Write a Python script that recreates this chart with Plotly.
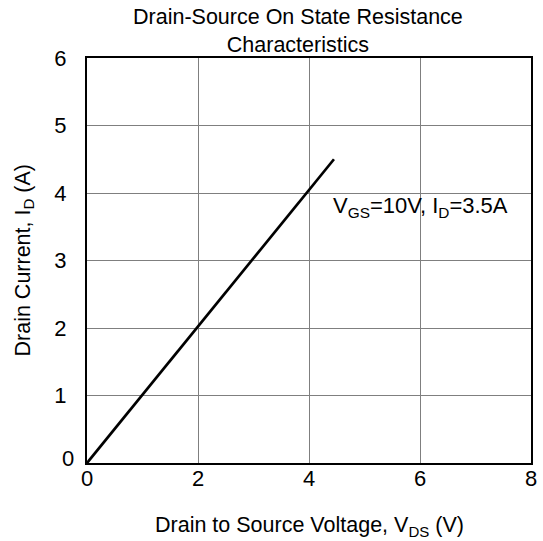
import plotly.graph_objects as go

vds = [0, 4.45]
id_a = [0, 4.5]
x_ticks = [0, 2, 4, 6, 8]
x_labels = ["0", "2", "4", "6", "8"]
y_ticks = [0, 1, 2, 3, 4, 5, 6]
y_labels = ["", "1", "2", "3", "4", "5", "6"]

FONT = "Liberation Sans, Arial, sans-serif"
L, R, T, B = 87, 12, 58, 78
W, H = 543, 541
PW, PH = W - L - R, H - T - B

fig = go.Figure()
fig.add_trace(go.Scatter(x=vds, y=id_a, mode="lines",
                         line=dict(color="black", width=2.7), showlegend=False))

fig.add_annotation(x=4.4, y=3.8, xref="x", yref="y", xanchor="left", yanchor="middle",
                   text="V<sub>GS</sub>=10V, I<sub>D</sub>=3.5A", showarrow=False,
                   font=dict(family=FONT, size=22, color="black"))

# title
fig.add_annotation(x=(298 - L) / PW, y=1 + (T - 31) / PH, xref="paper", yref="paper",
                   xanchor="center", yanchor="middle", showarrow=False,
                   text="Drain-Source On State Resistance<br>Characteristics",
                   font=dict(family=FONT, size=21.5, color="black"))
# axis titles
fig.add_annotation(x=(309 - L) / PW, y=-(526 - (H - B)) / PH, xref="paper", yref="paper",
                   xanchor="center", yanchor="middle", showarrow=False,
                   text="Drain to Source Voltage, V<sub>DS</sub> (V)",
                   font=dict(family=FONT, size=21.5, color="black"))
fig.add_annotation(x=(24 - L) / PW, y=0.5, xref="paper", yref="paper",
                   xanchor="center", yanchor="middle", showarrow=False, textangle=-90,
                   text="Drain Current, I<sub>D</sub> (A)",
                   font=dict(family=FONT, size=21.5, color="black"))
# y "0" label, drawn slightly offset as in the reference
fig.add_annotation(x=(68 - L) / PW, y=0, xref="paper", yref="y",
                   xanchor="center", yanchor="middle", yshift=5, showarrow=False,
                   text=str(y_ticks[0]), font=dict(family=FONT, size=22, color="black"))

fig.update_layout(
    width=W, height=H,
    margin=dict(l=L, r=R, t=T, b=B),
    paper_bgcolor="white", plot_bgcolor="white",
    font=dict(family=FONT, color="black"),
    xaxis=dict(range=[0, 8], tickvals=x_ticks, ticktext=x_labels, showgrid=True,
               gridcolor="#7f7f7f", gridwidth=1, automargin=False,
               showline=True, linecolor="black", linewidth=2, mirror=True, zeroline=False,
               ticks="", tickfont=dict(size=22), ticklabelstandoff=-5),
    yaxis=dict(range=[0, 6], tickvals=y_ticks, ticktext=y_labels, showgrid=True,
               gridcolor="#7f7f7f", gridwidth=1, automargin=False,
               showline=True, linecolor="black", linewidth=2, mirror=True, zeroline=False,
               ticks="", tickfont=dict(size=22), ticklabelstandoff=14),
)

fig.write_html("out.html", config={"displayModeBar": False},
               post_script="document.body.style.margin='0';document.body.style.padding='0';")
